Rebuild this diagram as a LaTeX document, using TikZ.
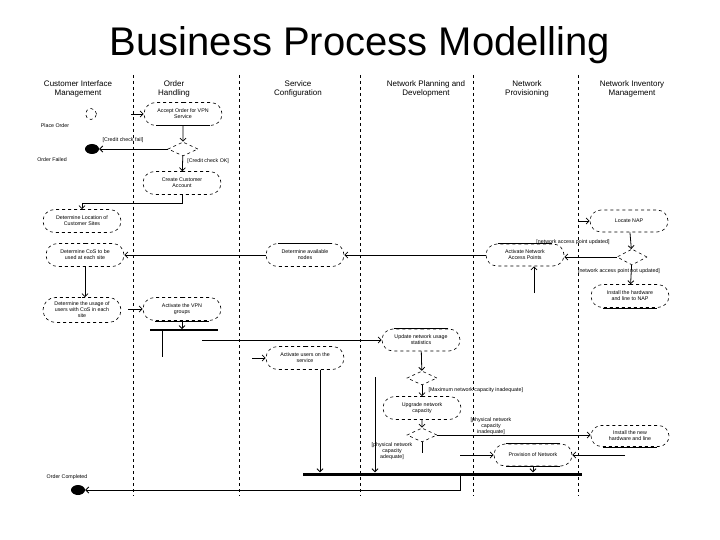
\documentclass[tikz,border=0pt]{standalone}
\usepackage{fontspec}
\setmainfont{Liberation Sans}
\usetikzlibrary{arrows.meta,shapes,positioning,calc}

\tikzset{
  lane/.style={dashed, line width=0.7pt},
  lanehead/.style={align=center, font=\fontsize{8}{8.6}\selectfont},
  act/.style={rounded rectangle, draw, dashed, line width=0.6pt, minimum width=80pt, minimum height=23pt, inner sep=1pt, align=center, font=\fontsize{5.3}{6}\selectfont},
  dec/.style={diamond, draw, dashed, line width=0.6pt, minimum width=30pt, minimum height=14pt, inner sep=0pt},
  finalstate/.style={ellipse, fill=black, minimum width=14pt, minimum height=10pt, inner sep=0pt},
  initstate/.style={circle, draw, dashed, line width=0.6pt, minimum size=11pt, inner sep=0pt},
  syncbar/.style={fill=black, inner sep=0pt},
  flow/.style={line width=0.8pt, -{Straight Barb[length=3pt,width=6pt]}},
  guard/.style={font=\fontsize{5.3}{6}\selectfont, align=center},
}

\begin{document}
\begin{tikzpicture}[x=1pt, y=-1pt]
    \useasboundingbox (0,0) rectangle (720,540);

    % title
    \node[font=\fontsize{40}{44}\selectfont] (title) at (360,45) {Business Process Modelling};

    % swimlanes
    \foreach \lx in {133,239,360,473,578}
        \draw[lane] (\lx,75) -- (\lx,496);
    \node[lanehead] (h1) at (78,89) {Customer Interface\\Management};
    \node[lanehead] (h2) at (174,89) {Order\\Handling};
    \node[lanehead] (h3) at (298,89) {Service\\Configuration};
    \node[lanehead] (h4) at (426,89) {Network Planning and\\Development};
    \node[lanehead] (h5) at (527,89) {Network\\Provisioning};
    \node[lanehead] (h6) at (632,89) {Network Inventory\\Management};

    % order handling
    \node[initstate] (init) at (91,114) {};
    \node[guard] (l1) at (55,126) {Place Order};
    \node[act] (acc) at (183,114) {Accept Order for VPN\\Service};
    \node[dec] (d1) at (183,149) {};
    \node[finalstate] (fail) at (92,149) {};
    \node[guard] (l2) at (52,160) {Order Failed};
    \node[guard] (g1) at (123,140) {[Credit check fail]};
    \node[act] (cust) at (182,183) {Create Customer\\Account};

    % customer side activities
    \node[act] (loc) at (82,221) {Determine Location of\\Customer Sites};
    \node[act] (cos) at (85,255) {Determine CoS to be\\used at each site};
    \node[act, minimum height=25pt] (usage) at (82,310) {Determine the usage of\\users with CoS in each\\site};
    \node[act] (vpn) at (182,309) {Activate the VPN\\groups};
    \node[syncbar, minimum width=68pt, minimum height=1.4pt] (fork) at (184,330) {};

    % service configuration
    \node[act] (avail) at (305,255) {Determine available\\nodes};
    \node[act] (actusr) at (305,358) {Activate users on the\\service};

    % network planning
    \node[act, minimum height=22pt] (upd) at (421,340) {Update network usage\\statistics};
    \node[dec] (d3) at (422,378) {};
    \node[act] (upg) at (422,408) {Upgrade network\\capacity};
    \node[dec] (d4) at (422,435) {};

    % network provisioning
    \node[act, minimum height=22pt] (actnap) at (525,255) {Activate Network\\Access Points};
    \node[act, minimum height=22pt] (prov) at (533,455) {Provision of Network};

    % network inventory
    \node[act, minimum height=22pt] (locnap) at (629,221) {Locate NAP};
    \node[dec, minimum height=16pt] (d2) at (632,257) {};
    \node[act] (inst1) at (630,296) {Install the hardware\\and line to NAP};
    \node[act, minimum height=21pt] (inst2) at (630,436) {Install the new\\hardware and line};

    % join and end
    \node[syncbar, minimum width=279pt, minimum height=3pt] (join) at (442,474) {};
    \node[finalstate] (done) at (78,490) {};
    \node[guard] (l3) at (67,477) {Order Completed};

    % solid edges on some activities
    \foreach \n in {acc,vpn,inst1,inst2,prov}
        \draw[line width=0.6pt] ($(\n.south)+(-27,0)$) -- ($(\n.south)+(27,0)$);
    \foreach \n in {avail,actnap,upd,prov}
        \draw[line width=0.6pt] ($(\n.north)+(-27,0)$) -- ($(\n.north)+(27,0)$);

    % flows
    \coordinate (a0) at (131,114);
    \draw[flow] (a0) -- (acc);
    \draw[flow] (acc) -- (d1);
    \draw[flow] (d1.west) -- (fail);
    \draw[flow] (d1) -- (cust) node[guard, pos=0.35, right=1pt] {[Credit check OK]};
    \draw[flow] (cust.south) -- ++(0,9) -| (loc.north);
    \draw[flow] (actnap.west) -- (avail.east);
    \draw[flow] (avail.west) -- (cos.east);
    \draw[flow] (cos.south) -- (cos.south |- usage.north);
    \coordinate (a1) at (128,309);
    \draw[flow] (a1) -- (vpn.west);
    \draw[flow] (vpn.south) -- (vpn.south |- fork.north);
    \coordinate (f1) at (162,357);
    \draw[line width=0.8pt] (f1 |- fork.south) -- (f1);
    \coordinate (f2) at (202,340);
    \draw[flow] (f2) -- (upd.west);
    \coordinate (a2) at (252,358);
    \draw[flow] (a2) -- (actusr.west);

    \coordinate (a3) at (579,221);
    \draw[flow] (a3) -- (locnap.west);
    \draw[flow] (locnap) -- (d2);
    \draw[flow] (d2.west) -- (d2.west -| actnap.east);
    \node[guard] (g2) at (573,242) {[network access point updated]};
    \draw[flow] (d2) -- (inst1);
    \node[guard] (g3) at (619,271) {[network access point not updated]};
    \coordinate (n0) at (534,293);
    \draw[flow] (n0) -- (n0 |- actnap.south);

    \draw[flow] (upd) -- (d3);
    \draw[flow] (d3) -- (upg);
    \node[guard, anchor=west] (g4) at (425,390) {[Maximum network capacity inadequate]};
    \draw[flow] (upg) -- (d4);
    \draw[flow] (d4.east) -- (d4.east -| inst2.west);
    \node[guard] (g5) at (491,426) {[physical network\\capacity\\inadequate]};
    \coordinate (c1) at (422,453);
    \draw[line width=0.8pt] (d4.south) -- (c1);
    \node[guard] (g6) at (392,451) {[physical network\\capacity\\adequate]};

    \coordinate (p0) at (460,455);
    \draw[flow] (p0) -- (prov.west);
    \coordinate (p1) at (625,455);
    \draw[flow] (p1) -- (prov.east);
    \draw[flow] (prov.south) -- (prov.south |- join.north);
    \draw[flow] ([xshift=15pt]actusr.south) -- ([xshift=15pt]actusr.south |- join.north);
    \coordinate (c0) at (375,377);
    \draw[flow] (c0) -- (c0 |- join.north);
    \coordinate (j0) at (460,474);
    \draw[flow] (j0) |- (done);
\end{tikzpicture}
\end{document}
